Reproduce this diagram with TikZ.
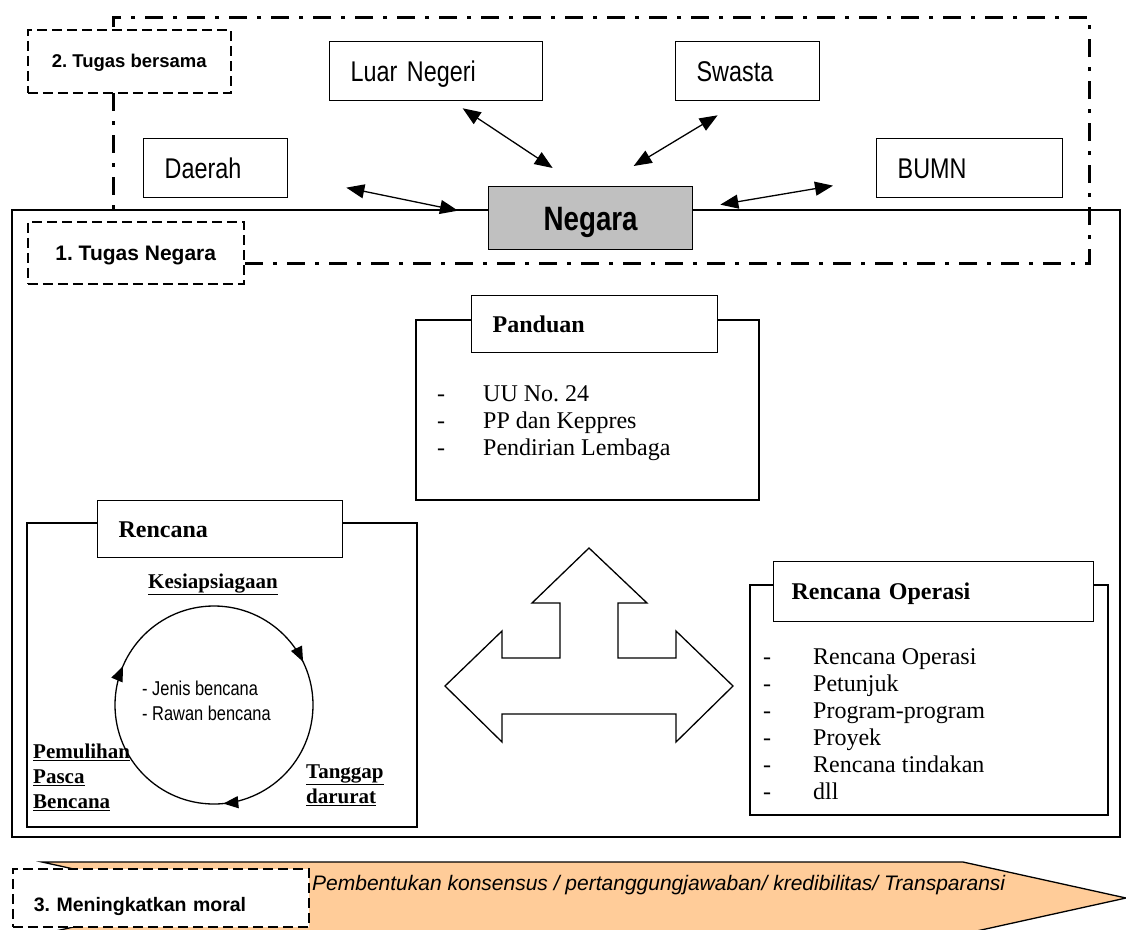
\documentclass[tikz,border=0pt]{standalone}
\usepackage{fontspec}
\setmainfont{Liberation Serif}
\newfontfamily\arialf{Liberation Sans}
\newfontfamily\narrowf[FakeStretch=0.82]{Liberation Sans}
\usetikzlibrary{arrows.meta,calc,decorations.markings}
\definecolor{bannerfill}{RGB}{255,204,153}
\definecolor{statefill}{RGB}{192,192,192}
\frenchspacing

\begin{document}
\begin{tikzpicture}[x=1pt,y=-1pt,
  frame/.style={line width=1.5pt},
  dashdot/.style={line width=3pt, dash pattern=on 18pt off 10pt on 4pt off 10pt},
  tagbox/.style={draw, fill=white, line width=1.5pt, dash pattern=on 10pt off 5pt,
    anchor=north west, inner sep=0pt, align=center},
  partner/.style={draw, fill=white, line width=1.3pt, anchor=north west,
    inner xsep=21pt, inner ysep=0pt, align=left, text height=20.4pt, text depth=0pt,
    minimum height=59pt, font=\narrowf\fontsize{28.5}{34}\selectfont},
  link/.style={line width=1.3pt,
    {Triangle[length=18pt,width=14pt]}-{Triangle[length=18pt,width=14pt]}},
  panel/.style={draw, line width=1.3pt},
  headbox/.style={draw, fill=white, line width=1.3pt, anchor=north west,
    inner xsep=21pt, inner ysep=0pt, align=left, text height=16pt, text depth=0pt,
    font=\bfseries\fontsize{24}{28}\selectfont},
  itemlist/.style={anchor=north west, inner sep=0pt, align=left,
    font=\fontsize{24}{27}\selectfont},
  phase/.style={anchor=north west, inner sep=0pt, align=left,
    font=\bfseries\fontsize{21}{25}\selectfont},
  cycleline/.style={line width=1.3pt, postaction={decorate}, decoration={markings,
    mark=at position 0.178 with {\arrow{Triangle[length=15pt,width=12pt]}},
    mark=at position 0.485 with {\arrow{Triangle[length=15pt,width=12pt]}},
    mark=at position 0.814 with {\arrow{Triangle[length=15pt,width=12pt]}}}},
]
\useasboundingbox (0,0) rectangle (1126,929);

% shared-task region (dash-dot) and the state frame
\draw[dashdot] (245,263) -- (1089,263) -- (1089,17) -- (113,17) -- (113,210);
\draw[frame] (12,210) rectangle (1120,837);

\node[tagbox, minimum width=203pt, minimum height=63pt, text height=13.3pt, text depth=0pt,
  font=\arialf\bfseries\fontsize{18.5}{22}\selectfont] (shared) at (27,29) {2. Tugas bersama};
\node[tagbox, minimum width=216pt, minimum height=62pt, text height=15pt, text depth=0pt,
  font=\arialf\bfseries\fontsize{21}{25}\selectfont] (statetask) at (27,221) {1. Tugas Negara};

% partners
\node[partner, text width=102pt] (daerah) at (143,138) {Daerah};
\node[partner, text width=171pt] (luar) at (329,41) {Luar Negeri};
\node[partner, text width=102pt] (swasta) at (675,41) {Swasta};
\node[partner, text width=144pt] (bumn) at (876,138) {BUMN};

\node[draw, fill=statefill, line width=1.3pt, anchor=north west, minimum width=204pt,
  minimum height=63pt, inner sep=0pt, text height=24pt, text depth=0pt,
  font=\narrowf\bfseries\fontsize{33.8}{40}\selectfont] (state) at (488,186) {Negara};

\draw[link] ($(daerah.east)+(58,19.5)$) -- ($(state.west)+(-30,-7.5)$);
\draw[link] ($(luar.south)+(26.5,7)$) -- ($(state.north)+(-38,-18)$);
\draw[link] ($(swasta.south)+(-30,14)$) -- ($(state.north)+(43,-20)$);
\draw[link] ($(state.east)+(27,-13.5)$) -- ($(bumn.west)+(-43,17.5)$);

% guidance panel
\draw[panel] (416,320) rectangle (759,500);
\node[headbox, text width=204pt, minimum height=57pt] (guidehead) at (471,295) {Panduan};
\node[itemlist] (guidelist) at (437,382.1)
  {\strut\makebox[46pt][l]{-}UU No. 24\\
   \makebox[46pt][l]{-}PP dan Keppres\\
   \makebox[46pt][l]{-}Pendirian Lembaga};

% planning panel with the disaster cycle
\draw[panel] (27,523) rectangle (417,827);
\node[headbox, text width=203pt, minimum height=57pt] (planhead) at (97,500) {Rencana};
\draw[cycleline] (214,606) arc[start angle=-90, end angle=270, radius=99];
\node[anchor=base, inner sep=0pt, font=\bfseries\fontsize{21}{25}\selectfont] (prep)
  at (213,588) {\underline{Kesiapsiagaan}};
\node[anchor=north west, inner sep=0pt, align=left,
  font=\narrowf\fontsize{20}{25}\selectfont] (hazard) at (142,677.5)
  {\strut- Jenis bencana\\- Rawan bencana};
\node[phase] (recovery) at (33,740.5)
  {\strut\underline{Pemulihan}\\\underline{Pasca}\\\underline{Bencana}};
\node[phase] (response) at (306,760.5)
  {\strut\underline{Tanggap}\\\underline{darurat}};

% three-way block arrow
\draw[line width=1.3pt, line join=miter]
  (589,548) -- (647,603) -- (618,603) -- (618,658) -- (676,658) -- (676,631)
  -- (733,686) -- (676,742) -- (676,714) -- (502,714) -- (502,742) -- (445,686)
  -- (502,631) -- (502,658) -- (560,658) -- (560,603) -- (532,603) -- cycle;

% operations panel
\draw[panel] (750,585) rectangle (1108,815);
\node[headbox, inner xsep=18pt, text width=284pt, minimum height=60pt] (opshead)
  at (773,561) {Rencana Operasi};
\node[itemlist] (opslist) at (763,645.1)
  {\strut\makebox[50pt][l]{-}Rencana Operasi\\
   \makebox[50pt][l]{-}Petunjuk\\
   \makebox[50pt][l]{-}Program-program\\
   \makebox[50pt][l]{-}Proyek\\
   \makebox[50pt][l]{-}Rencana tindakan\\
   \makebox[50pt][l]{-}dll};

% morale banner
\draw[line width=1.3pt, fill=bannerfill]
  (42,862) -- (963,862) -- (1126,898) -- (963,934) -- (42,934) -- (205,898) -- cycle;
\node[tagbox, align=left, inner xsep=21pt, text width=254pt, minimum height=58pt,
  text height=28pt, text depth=0pt,
  font=\arialf\bfseries\fontsize{19.5}{23}\selectfont] (morale) at (12,868) {3. Meningkatkan moral};
\node[anchor=base west, inner sep=0pt, font=\arialf\itshape\fontsize{21}{25}\selectfont] (ethos)
  at (312,890) {Pembentukan konsensus / pertanggungjawaban/ kredibilitas/ Transparansi};
\end{tikzpicture}
\end{document}
